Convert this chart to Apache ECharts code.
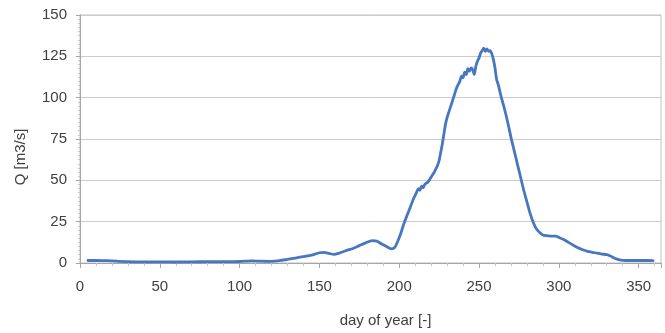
<!DOCTYPE html>
<html>
<head>
<meta charset="utf-8">
<script src="https://cdn.jsdelivr.net/npm/echarts@6/dist/echarts.min.js"></script>
<style>
  html, body { margin: 0; padding: 0; background: #ffffff; }
  #chart { width: 665px; height: 333px; }
</style>
</head>
<body>
<div id="chart"></div>
<script>
// Daily discharge over the year
const days = [
  5, 10, 15, 20, 25, 30, 40, 50, 60, 70, 80, 90, 100, 108, 113, 120, 125, 130, 135, 140,
  145, 150, 153, 156, 159, 163, 167, 171, 175, 179, 183, 186, 189, 192, 195, 197, 199, 201, 203, 205,
  207, 209, 211, 212, 213, 214, 215, 216, 218, 220, 221, 222, 223, 224, 225, 226, 227, 228, 229, 230,
  232, 234, 236, 238, 239, 240, 241, 242, 243, 244, 245, 246, 247, 248, 249, 250, 251, 252, 253, 254,
  255, 256, 257, 258, 259, 260, 261, 262, 263, 264, 266, 268, 270, 272, 274, 276, 278, 280, 282, 284,
  286, 288, 290, 292, 295, 298, 300, 303, 306, 309, 312, 315, 318, 321, 324, 327, 330, 332, 334, 336,
  338, 340, 345, 350, 355, 359
];
const discharge = [
  1.5, 1.5, 1.4, 1.3, 1.0, 0.8, 0.7, 0.7, 0.6, 0.7, 0.8, 0.8, 0.9, 1.3, 1.1, 1.0, 1.4, 2.2, 3.0, 3.8,
  4.8, 6.2, 6.4, 5.8, 5.2, 6.2, 7.6, 8.8, 10.5, 12.2, 13.5, 13.2, 11.5, 10.0, 8.6, 9.2, 13, 18, 24, 29,
  34, 39, 43, 45, 44, 46.5, 45.5, 47.5, 49, 52, 53.5, 55, 57, 59, 62, 67, 72, 78, 84, 88,
  94, 100, 106, 110, 113, 112, 115.5, 114, 117.5, 116, 118, 117, 114, 119, 122, 124, 127, 128.5, 130, 128,
  129.5, 128, 128.5, 126.5, 123, 118, 111, 108, 104, 100, 93, 85, 76, 68, 60, 52, 44, 37, 30, 24.5,
  20.5, 18.5, 17, 16.5, 16.3, 16.3, 15.5, 14.2, 12.5, 10.8, 9.2, 8.0, 7.0, 6.5, 5.9, 5.4, 5.1, 4.4, 3.4, 2.5,
  1.9, 1.6, 1.5, 1.5, 1.5, 1.4
];

const xTitle = 'day of year [-]';
const yTitle = 'Q [m3/s]';

const seriesData = days.map((d, i) => [d, discharge[i]]);

const fontFamily = '"Liberation Sans", Arial, sans-serif';
const axisGray = '#a6a6a6';
const textColor = '#404040';

const chart = echarts.init(document.getElementById('chart'), null, { renderer: 'canvas' });
chart.setOption({
  animation: false,
  backgroundColor: '#ffffff',
  grid: {
    left: 80, right: 4, top: 15, bottom: 68,
    show: true, borderColor: '#c0c0c0', borderWidth: 1
  },
  xAxis: {
    type: 'value',
    min: 0, max: 364, interval: 50,
    name: xTitle,
    nameLocation: 'middle',
    nameGap: 50,
    nameTextStyle: { fontFamily, fontSize: 15, color: textColor, padding: [0, 0, 0, 30] },
    axisLine: { lineStyle: { color: axisGray } },
    axisTick: { length: 5, lineStyle: { color: axisGray } },
    minorTick: { show: true, splitNumber: 5, length: 3, lineStyle: { color: '#c8c8c8' } },
    axisLabel: { fontFamily, fontSize: 15, color: textColor, margin: 16, showMaxLabel: false },
    splitLine: { show: false }
  },
  yAxis: {
    type: 'value',
    min: 0, max: 150, interval: 25,
    name: yTitle,
    nameLocation: 'middle',
    nameGap: 52,
    nameRotate: 90,
    nameTextStyle: { fontFamily, fontSize: 15, color: textColor, padding: [0, 36, 0, 0] },
    axisLine: { show: true, lineStyle: { color: axisGray } },
    axisTick: { show: true, length: 4, lineStyle: { color: axisGray } },
    minorTick: { show: true, splitNumber: 10, length: 2, lineStyle: { color: '#c8c8c8' } },
    axisLabel: { fontFamily, fontSize: 15, color: textColor, margin: 13 },
    splitLine: { show: true, lineStyle: { color: '#cccccc', width: 1 } }
  },
  series: [{
    type: 'line',
    data: seriesData,
    showSymbol: false,
    smooth: 0.25,
    lineStyle: { color: '#4677bf', width: 2.8, join: 'round', cap: 'round' },
    itemStyle: { color: '#4677bf' }
  }]
});
</script>
</body>
</html>
